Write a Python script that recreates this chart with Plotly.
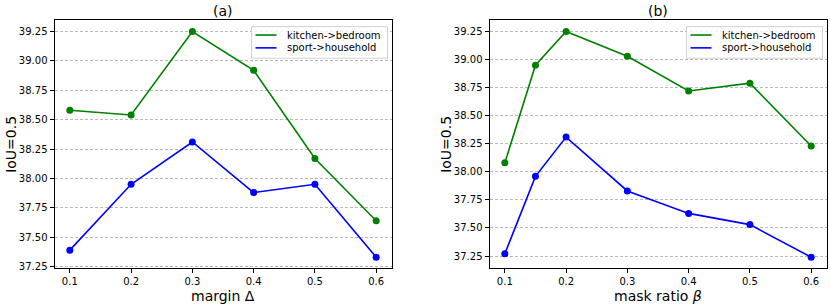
import plotly.graph_objects as go

# Data
x_a = [0.1, 0.2, 0.3, 0.4, 0.5, 0.6]
kb_a = [38.58, 38.54, 39.25, 38.92, 38.17, 37.64]
sh_a = [37.39, 37.95, 38.31, 37.88, 37.95, 37.33]

x_b = [0.1, 0.15, 0.2, 0.3, 0.4, 0.5, 0.6]
kb_b = [38.08, 38.95, 39.25, 39.03, 38.72, 38.79, 38.23]
sh_b = [37.27, 37.96, 38.31, 37.83, 37.63, 37.53, 37.24]

x_ticks = [0.1, 0.2, 0.3, 0.4, 0.5, 0.6]
y_ticks = [37.25, 37.5, 37.75, 38.0, 38.25, 38.5, 38.75, 39.0, 39.25]
names = ["kitchen->bedroom", "sport->household"]
colors = ["#008000", "#0000ff"]
titles = ["(a)", "(b)"]
xlabels = ["margin Δ", "mask ratio <i>β</i>"]
ylabel = "IoU=0.5"

W, H = 830, 308
FONT = "DejaVu Sans"

fig = go.Figure()

panels = [
    dict(x=x_a, ys=[kb_a, sh_a], xa="x", ya="y"),
    dict(x=x_b, ys=[kb_b, sh_b], xa="x2", ya="y2"),
]
for p in panels:
    for name, ys, c in zip(names, p["ys"], colors):
        fig.add_trace(go.Scatter(x=p["x"], y=ys, mode="lines+markers", name=name,
                                 line=dict(color=c, width=1.6),
                                 marker=dict(color=c, size=7),
                                 showlegend=False,
                                 xaxis=p["xa"], yaxis=p["ya"]))

def px(v):
    return v / W

def py(v):
    return 1 - v / H

doms = [(54.5, 391.5), (489.5, 826.5)]
top, bot = 20.5, 272

def yrange(a, b):
    lo, hi = min(a + b), max(a + b)
    m = (hi - lo) * 0.05
    return [lo - m, hi + m]

axis_common = dict(showline=True, linecolor="black", linewidth=1, mirror=True,
                   ticks="outside", ticklen=4, tickcolor="black",
                   tickfont=dict(family=FONT, size=10, color="black"),
                   zeroline=False)
grid = dict(showgrid=True, gridcolor="#b8b8b8", griddash="3px,2px", gridwidth=0.8)

fig.update_layout(
    width=W, height=H, margin=dict(l=0, r=0, t=0, b=0),
    plot_bgcolor="white", paper_bgcolor="white",
    font=dict(family=FONT, color="black"),
    showlegend=False,
    xaxis=dict(domain=[px(doms[0][0]), px(doms[0][1])], range=[0.075, 0.625],
               tickvals=x_ticks, ticktext=[f"{v:.1f}" for v in x_ticks],
               showgrid=False, anchor="y", **axis_common),
    yaxis=dict(domain=[py(bot), py(top)], range=yrange(kb_a, sh_a),
               tickvals=y_ticks, ticktext=[f"{v:.2f}" for v in y_ticks],
               anchor="x", **grid, **axis_common),
    xaxis2=dict(domain=[px(doms[1][0]), px(doms[1][1])], range=[0.075, 0.625],
                tickvals=x_ticks, ticktext=[f"{v:.1f}" for v in x_ticks],
                showgrid=False, anchor="y2", **axis_common),
    yaxis2=dict(domain=[py(bot), py(top)], range=yrange(kb_b, sh_b),
                tickvals=y_ticks, ticktext=[f"{v:.2f}" for v in y_ticks],
                anchor="x2", **grid, **axis_common),
)

# Legends (matplotlib-style compact boxes)
for (l, r) in doms:
    bx1 = r - 4
    bx0 = bx1 - 136
    by0, by1 = 27, 59
    fig.add_shape(type="rect", xref="paper", yref="paper",
                  x0=px(bx0), x1=px(bx1), y0=py(by1), y1=py(by0),
                  line=dict(color="#d0d0d0", width=1),
                  fillcolor="rgba(255,255,255,0.8)", layer="above")
    for i, (name, c) in enumerate(zip(names, colors)):
        yy = 35.5 + i * 13
        fig.add_shape(type="line", xref="paper", yref="paper",
                      x0=px(bx0 + 4), x1=px(bx0 + 25), y0=py(yy), y1=py(yy),
                      line=dict(color=c, width=1.6), layer="above")
        fig.add_annotation(text=name, x=px(bx0 + 33), y=py(yy), xref="paper",
                           yref="paper", xanchor="left", yanchor="middle",
                           showarrow=False,
                           font=dict(family=FONT, size=10, color="black"))

for (l, r), t, xl in zip(doms, titles, xlabels):
    cx = px((l + r) / 2)
    fig.add_annotation(text=t, x=cx, y=py(11), xref="paper", yref="paper",
                       xanchor="center", yanchor="middle",
                       showarrow=False, font=dict(family=FONT, size=14))
    fig.add_annotation(text=xl, x=cx, y=py(300), xref="paper", yref="paper",
                       xanchor="center", yanchor="middle",
                       showarrow=False, font=dict(family=FONT, size=14))
    fig.add_annotation(text=ylabel, x=px(l - 43), y=py((top + bot) / 2),
                       xref="paper", yref="paper", textangle=-90,
                       xanchor="center", yanchor="middle",
                       showarrow=False, font=dict(family=FONT, size=14))

fig.write_html("out.html", config={"displayModeBar": False},
               post_script="document.body.style.margin='0';")
